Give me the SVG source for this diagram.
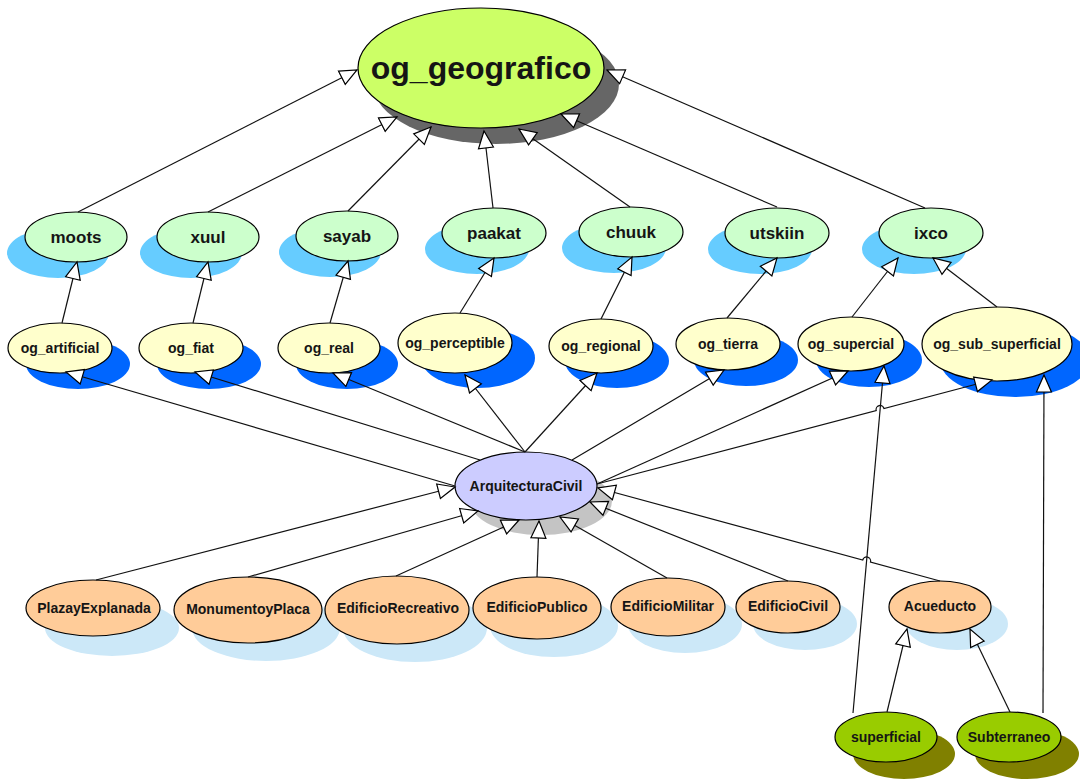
<svg xmlns="http://www.w3.org/2000/svg" width="1080" height="782" viewBox="0 0 1080 782">
  <style>
    .node { stroke: #000; stroke-width: 1.2; }
    .root { fill: #ccff66; }
    .lvl1 { fill: #ccffcc; }
    .lvl2 { fill: #ffffcc; }
    .core { fill: #ccccff; }
    .leaf { fill: #ffcc99; }
    .sub  { fill: #99cc00; }
    .sh-root { fill: #666666; }
    .sh-lvl1 { fill: #66ccff; }
    .sh-lvl2 { fill: #0066ff; }
    .sh-core { fill: #c4c4c4; }
    .sh-leaf { fill: #cce8f8; }
    .sh-sub  { fill: #808000; }
    text { font-family: "Liberation Sans", Arial, sans-serif; font-weight: bold; fill: #151515; text-anchor: middle; }
    .t-root { font-size: 32px; }
    .t-l1 { font-size: 17px; }
    .t-sm { font-size: 14px; }
    .edge { fill: none; stroke: #111; stroke-width: 1.2; marker-end: url(#gen); }
  </style>
  <defs>
    <!-- hollow triangle for generalization arrows -->
    <marker id="gen" markerUnits="userSpaceOnUse" markerWidth="22" markerHeight="20" refX="18" refY="9" orient="auto">
      <path d="M1,1.5 L18,9 L1,16.5 Z" fill="#fff" stroke="#000" stroke-width="1.2"/>
    </marker>
  </defs>
  <rect width="1080" height="782" fill="#fff"/>

  <!-- nodes -->
  <g id="og_geografico">
    <ellipse class="sh-root" cx="496" cy="84" rx="123" ry="60"/>
    <ellipse class="node root" cx="481" cy="68" rx="123" ry="60"/>
    <text class="t-root" x="481" y="79">og_geografico</text>
  </g>

  <g id="moots">
    <ellipse class="sh-lvl1" cx="58" cy="253" rx="51" ry="25"/>
    <ellipse class="node lvl1" cx="76" cy="237" rx="51" ry="25"/>
    <text class="t-l1" x="76" y="243">moots</text>
  </g>
  <g id="xuul">
    <ellipse class="sh-lvl1" cx="191" cy="253" rx="51" ry="25"/>
    <ellipse class="node lvl1" cx="208" cy="237" rx="51" ry="25"/>
    <text class="t-l1" x="208" y="243">xuul</text>
  </g>
  <g id="sayab">
    <ellipse class="sh-lvl1" cx="330" cy="252" rx="51" ry="25"/>
    <ellipse class="node lvl1" cx="347" cy="236" rx="51" ry="25"/>
    <text class="t-l1" x="347" y="242">sayab</text>
  </g>
  <g id="paakat">
    <ellipse class="sh-lvl1" cx="477" cy="249" rx="52" ry="25"/>
    <ellipse class="node lvl1" cx="494" cy="233" rx="52" ry="25"/>
    <text class="t-l1" x="494" y="239">paakat</text>
  </g>
  <g id="chuuk">
    <ellipse class="sh-lvl1" cx="614" cy="248" rx="52" ry="25"/>
    <ellipse class="node lvl1" cx="631" cy="232" rx="52" ry="25"/>
    <text class="t-l1" x="631" y="238">chuuk</text>
  </g>
  <g id="utskiin">
    <ellipse class="sh-lvl1" cx="760" cy="249" rx="52" ry="25"/>
    <ellipse class="node lvl1" cx="777" cy="233" rx="52" ry="25"/>
    <text class="t-l1" x="777" y="239">utskiin</text>
  </g>
  <g id="ixco">
    <ellipse class="sh-lvl1" cx="914" cy="249" rx="52" ry="25"/>
    <ellipse class="node lvl1" cx="931" cy="233" rx="52" ry="25"/>
    <text class="t-l1" x="931" y="239">ixco</text>
  </g>

  <g id="og_artificial">
    <ellipse class="sh-lvl2" cx="78" cy="364" rx="52" ry="25"/>
    <ellipse class="node lvl2" cx="60" cy="348" rx="52" ry="25"/>
    <text class="t-sm" x="60" y="353">og_artificial</text>
  </g>
  <g id="og_fiat">
    <ellipse class="sh-lvl2" cx="209" cy="364" rx="52" ry="25"/>
    <ellipse class="node lvl2" cx="191" cy="348" rx="52" ry="25"/>
    <text class="t-sm" x="191" y="353">og_fiat</text>
  </g>
  <g id="og_real">
    <ellipse class="sh-lvl2" cx="347" cy="364" rx="51" ry="25"/>
    <ellipse class="node lvl2" cx="329" cy="348" rx="51" ry="25"/>
    <text class="t-sm" x="329" y="353">og_real</text>
  </g>
  <g id="og_perceptible">
    <ellipse class="sh-lvl2" cx="478" cy="358" rx="57" ry="30"/>
    <ellipse class="node lvl2" cx="455" cy="343" rx="57" ry="30"/>
    <text class="t-sm" x="455" y="348">og_perceptible</text>
  </g>
  <g id="og_regional">
    <ellipse class="sh-lvl2" cx="617" cy="361" rx="52" ry="27"/>
    <ellipse class="node lvl2" cx="601" cy="346" rx="52" ry="27"/>
    <text class="t-sm" x="601" y="351">og_regional</text>
  </g>
  <g id="og_tierra">
    <ellipse class="sh-lvl2" cx="746" cy="360" rx="52" ry="26"/>
    <ellipse class="node lvl2" cx="728" cy="344" rx="52" ry="26"/>
    <text class="t-sm" x="728" y="349">og_tierra</text>
  </g>
  <g id="og_supercial">
    <ellipse class="sh-lvl2" cx="869" cy="360" rx="53" ry="27"/>
    <ellipse class="node lvl2" cx="851" cy="344" rx="53" ry="27"/>
    <text class="t-sm" x="851" y="349">og_supercial</text>
  </g>
  <g id="og_sub_superficial">
    <ellipse class="sh-lvl2" cx="1015" cy="360" rx="75" ry="37"/>
    <ellipse class="node lvl2" cx="997" cy="344" rx="75" ry="37"/>
    <text class="t-sm" x="997" y="349">og_sub_superficial</text>
  </g>

  <g id="ArquitecturaCivil">
    <ellipse class="sh-core" cx="541" cy="501" rx="71" ry="34"/>
    <ellipse class="node core" cx="526" cy="486" rx="71" ry="34"/>
    <text class="t-sm" x="526" y="491">ArquitecturaCivil</text>
  </g>

  <g id="PlazayExplanada">
    <ellipse class="sh-leaf" cx="112" cy="628" rx="67" ry="28"/>
    <ellipse class="node leaf" cx="93" cy="608" rx="67" ry="28"/>
    <text class="t-sm" x="94" y="613">PlazayExplanada</text>
  </g>
  <g id="MonumentoyPlaca">
    <ellipse class="sh-leaf" cx="266" cy="628" rx="74" ry="33"/>
    <ellipse class="node leaf" cx="248" cy="610" rx="74" ry="33"/>
    <text class="t-sm" x="248" y="614">MonumentoyPlaca</text>
  </g>
  <g id="EdificioRecreativo">
    <ellipse class="sh-leaf" cx="415" cy="628" rx="72" ry="34"/>
    <ellipse class="node leaf" cx="397" cy="610" rx="72" ry="34"/>
    <text class="t-sm" x="398" y="613">EdificioRecreativo</text>
  </g>
  <g id="EdificioPublico">
    <ellipse class="sh-leaf" cx="554" cy="626" rx="64" ry="31"/>
    <ellipse class="node leaf" cx="537" cy="608" rx="64" ry="31"/>
    <text class="t-sm" x="537" y="612">EdificioPublico</text>
  </g>
  <g id="EdificioMilitar">
    <ellipse class="sh-leaf" cx="685" cy="624" rx="57" ry="29"/>
    <ellipse class="node leaf" cx="668" cy="607" rx="57" ry="29"/>
    <text class="t-sm" x="668" y="611">EdificioMilitar</text>
  </g>
  <g id="EdificioCivil">
    <ellipse class="sh-leaf" cx="805" cy="624" rx="52" ry="26"/>
    <ellipse class="node leaf" cx="788" cy="607" rx="52" ry="26"/>
    <text class="t-sm" x="788" y="611">EdificioCivil</text>
  </g>
  <g id="Acueducto">
    <ellipse class="sh-leaf" cx="957" cy="624" rx="51" ry="26"/>
    <ellipse class="node leaf" cx="940" cy="607" rx="51" ry="26"/>
    <text class="t-sm" x="940" y="611">Acueducto</text>
  </g>

  <g id="superficial">
    <ellipse class="sh-sub" cx="904" cy="754" rx="51" ry="25"/>
    <ellipse class="node sub" cx="886" cy="737" rx="51" ry="25"/>
    <text class="t-sm" x="886" y="742">superficial</text>
  </g>
  <g id="Subterraneo">
    <ellipse class="sh-sub" cx="1027" cy="754" rx="52" ry="25"/>
    <ellipse class="node sub" cx="1009" cy="737" rx="52" ry="25"/>
    <text class="t-sm" x="1009" y="742">Subterraneo</text>
  </g>

  <!-- generalization connectors (child to parent) -->
  <g id="connectors">
    <path class="edge" d="M78,212 L357,70"/>
    <path class="edge" d="M208,212 L397,117"/>
    <path class="edge" d="M348,211 L431,127"/>
    <path class="edge" d="M493,208 L484,131"/>
    <path class="edge" d="M630,207 L519,129"/>
    <path class="edge" d="M777,207 L561,114"/>
    <path class="edge" d="M925,208 L607,70"/>

    <path class="edge" d="M62,323 L77,262"/>
    <path class="edge" d="M193,323 L208,262"/>
    <path class="edge" d="M330,323 L348,261"/>
    <path class="edge" d="M460,313 L494,258"/>
    <path class="edge" d="M601,319 L632,257"/>
    <path class="edge" d="M727,318 L777,258"/>
    <path class="edge" d="M852,317 L898,258"/>
    <path class="edge" d="M997,307 L933,258"/>

    <path class="edge" d="M455,486 L66,372"/>
    <path class="edge" d="M480,460 L195,372"/>
    <path class="edge" d="M525,452 L333,373"/>
    <path class="edge" d="M525,452 L465,375"/>
    <path class="edge" d="M525,452 L597,373"/>
    <path class="edge" d="M572,460 L724,370"/>
    <path class="edge" d="M597,484 L848,371"/>
    <path class="edge" d="M597,484 L876.2,410.5 A4,4 0 0 1 884,408.5 L992,380"/>

    <path class="edge" d="M853,713 L884,366"/>
    <path class="edge" d="M1043,713 L1044,375"/>
    <path class="edge" d="M887,712 L907,629"/>
    <path class="edge" d="M1010,712 L970,629"/>

    <path class="edge" d="M96,580 L455,487"/>
    <path class="edge" d="M248,577 L478,511"/>
    <path class="edge" d="M396,576 L519,520"/>
    <path class="edge" d="M537,577 L539,521"/>
    <path class="edge" d="M667,578 L560,517"/>
    <path class="edge" d="M788,581 L590,502"/>
    <path class="edge" d="M940,581 L870.5,562 A4,4 0 0 0 862.7,560 L598,488"/>
  </g>
</svg>
